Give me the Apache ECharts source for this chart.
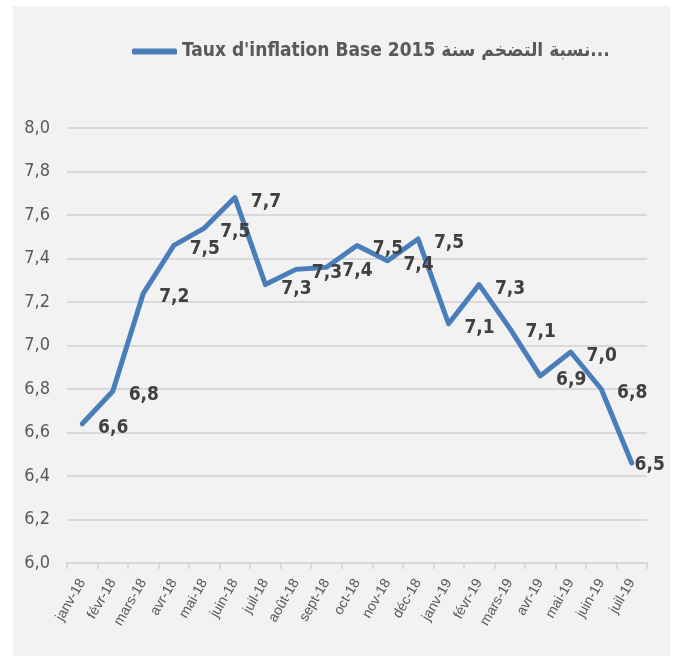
<!DOCTYPE html>
<html>
<head>
<meta charset="utf-8">
<script src="https://cdn.jsdelivr.net/npm/echarts@6/dist/echarts.min.js"></script>
<style>
html,body{margin:0;padding:0;background:#ffffff;}
#chart{width:675px;height:656px;}
</style>
</head>
<body>
<div id="chart"></div>
<script>
const seriesName = "Taux d'inflation Base 2015 نسبة التضخم سنة...";
const categories = ['janv-18','févr-18','mars-18','avr-18','mai-18','juin-18','juil-18','août-18','sept-18','oct-18','nov-18','déc-18','janv-19','févr-19','mars-19','avr-19','mai-19','juin-19','juil-19'];
const inflation = [6.64, 6.79, 7.24, 7.46, 7.54, 7.68, 7.28, 7.35, 7.36, 7.46, 7.39, 7.49, 7.10, 7.28, 7.08, 6.86, 6.97, 6.80, 6.46];
const yMin = 6.0, yMax = 8.0, yStep = 0.2;

const narrow = "'DejaVu Sans Condensed', 'Liberation Sans Narrow', sans-serif";
const fmt = v => v.toFixed(1).replace('.', ',');

const chart = echarts.init(document.getElementById('chart'));
chart.setOption({
  animation: false,
  backgroundColor: '#ffffff',
  graphic: [{
    type: 'rect', z: -10, silent: true,
    shape: {x: 13, y: 6, width: 657, height: 650},
    style: {fill: '#f2f2f2'}
  }],
  legend: {
    data: [seriesName],
    left: 132, top: 42, padding: 0,
    icon: 'roundRect', itemWidth: 45, itemHeight: 6, itemGap: 6,
    textStyle: {fontFamily: narrow, fontWeight: 'bold', fontSize: 19, color: '#595959'}
  },
  grid: {left: 67, right: 28, top: 128, bottom: 93},
  xAxis: {
    type: 'category', data: categories, boundaryGap: true,
    axisLine: {lineStyle: {color: '#d9d9d9', width: 2}},
    axisTick: {show: true, alignWithLabel: false, length: 6, lineStyle: {color: '#d9d9d9', width: 2}},
    axisLabel: {rotate: 60, interval: 0, margin: 17, fontFamily: "'Liberation Sans', sans-serif", fontSize: 14, color: '#595959'}
  },
  yAxis: {
    type: 'value', min: yMin, max: yMax, interval: yStep,
    axisLine: {show: false}, axisTick: {show: false},
    splitLine: {lineStyle: {color: '#d9d9d9', width: 2}},
    axisLabel: {formatter: v => fmt(v), margin: 17, fontFamily: narrow, fontSize: 18, color: '#595959'}
  },
  series: [{
    name: seriesName, type: 'line',
    data: inflation.map((v, i) => ({
      value: v,
      label: {offset: i === inflation.length - 1 ? [18, 2] : [31, 4]}
    })),
    symbol: 'circle', symbolSize: 1,
    itemStyle: {color: '#4a7ebb'},
    lineStyle: {color: '#4a7ebb', width: 5, cap: 'round', join: 'round'},
    label: {
      show: true, position: 'inside',
      formatter: p => fmt(p.value),
      fontFamily: narrow, fontWeight: 'bold', fontSize: 19, color: '#404040'
    }
  }]
});
</script>
</body>
</html>
